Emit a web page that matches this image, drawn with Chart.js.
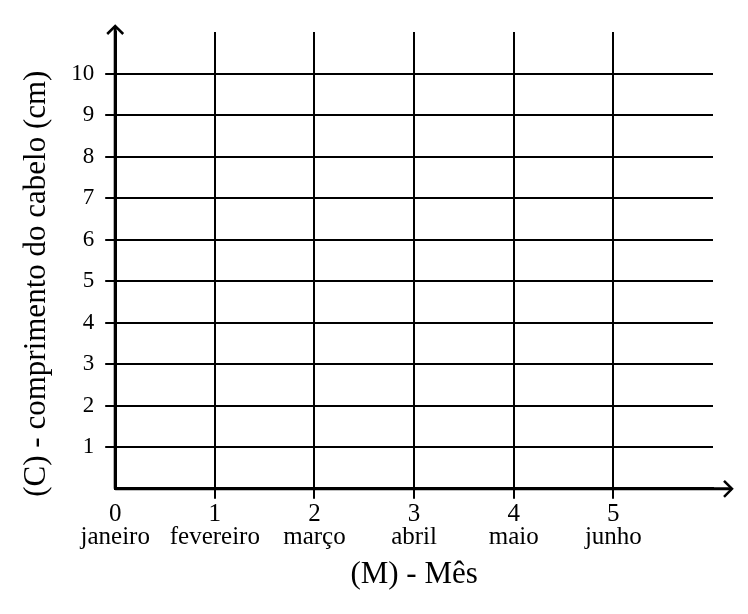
<!doctype html>
<html lang="pt">
<head>
  <meta charset="utf-8">
  <script src="https://cdn.jsdelivr.net/npm/chart.js"></script>
  <title>Comprimento do cabelo</title>
  <style>
    body { margin: 0; background: #fff; }
  </style>
</head>
<body>
<canvas id="myChart" width="748" height="614"></canvas>
<script>
  // tick labels for both axes
  const months = ['janeiro', 'fevereiro', 'março', 'abril', 'maio', 'junho'];
  const xTicks = [0, 1, 2, 3, 4, 5];
  const yTicks = [1, 2, 3, 4, 5, 6, 7, 8, 9, 10];
  const xMax = 6;
  const yMax = 11;

  const serif = 'Liberation Serif';

  // hide the grid line / tick mark that would sit on the axis itself
  function gridColor(ctx) {
    return ctx.tick && ctx.tick.value === 0 ? 'rgba(0,0,0,0)' : '#000';
  }

  // extend the axes past the chart area and add arrow heads
  const arrows = {
    id: 'arrows',
    afterDraw(chart) {
      const c = chart.ctx;
      const x0 = chart.scales.x.getPixelForValue(0);
      const y0 = chart.scales.y.getPixelForValue(0);
      const area = chart.chartArea;
      const top = area.top - 6;
      const right = area.right + 19;
      c.save();
      c.strokeStyle = '#000';
      c.lineWidth = 3;
      c.lineCap = 'butt';
      c.beginPath();
      c.moveTo(x0, y0);
      c.lineTo(x0, top);
      c.moveTo(x0, y0);
      c.lineTo(right, y0);
      c.stroke();
      c.lineJoin = 'miter';
      c.lineWidth = 2.5;
      c.beginPath();
      c.moveTo(x0 - 8, top + 8);
      c.lineTo(x0, top);
      c.lineTo(x0 + 8, top + 8);
      c.moveTo(right - 8, y0 - 8);
      c.lineTo(right, y0);
      c.lineTo(right - 8, y0 + 8);
      c.stroke();
      c.restore();
    }
  };

  var config = {
    type: 'scatter',
    data: {
      datasets: [{ data: [] }]
    },
    options: {
      responsive: false,
      animation: false,
      layout: { padding: { left: 14, top: 32, right: 35, bottom: 16 } },
      plugins: {
        legend: { display: false },
        tooltip: { enabled: false }
      },
      scales: {
        x: {
          type: 'linear',
          min: 0,
          max: xMax,
          afterBuildTicks: function (scale) {
            scale.ticks = xTicks.map(v => ({ value: v }));
          },
          grid: { color: gridColor, lineWidth: 2, tickLength: 10 },
          border: { color: '#000', width: 3 },
          ticks: {
            color: '#000',
            padding: 4,
            maxRotation: 0,
            autoSkip: false,
            font: { family: serif, size: 25, lineHeight: 0.92 },
            callback: function (v) { return [String(v), months[v]]; }
          },
          title: {
            display: true,
            text: '(M) - Mês',
            color: '#000',
            font: { family: serif, size: 31, lineHeight: 1.2 },
            padding: { top: 3, bottom: 5 }
          }
        },
        y: {
          type: 'linear',
          min: 0,
          max: yMax,
          afterBuildTicks: function (scale) {
            scale.ticks = yTicks.map(v => ({ value: v }));
          },
          grid: { color: gridColor, lineWidth: 2, tickLength: 10 },
          border: { color: '#000', width: 3 },
          ticks: {
            color: '#000',
            padding: 11,
            autoSkip: false,
            font: { family: serif, size: 23 }
          },
          title: {
            display: true,
            // trailing spaces push the centred text down, like the reference
            text: '(C) - comprimento do cabelo (cm)      ',
            color: '#000',
            font: { family: serif, size: 31, lineHeight: 1.2 },
            padding: { top: 4, bottom: 5 }
          }
        }
      }
    },
    plugins: [arrows]
  };

  var chart = new Chart(document.getElementById('myChart'), config);
</script>
</body>
</html>
